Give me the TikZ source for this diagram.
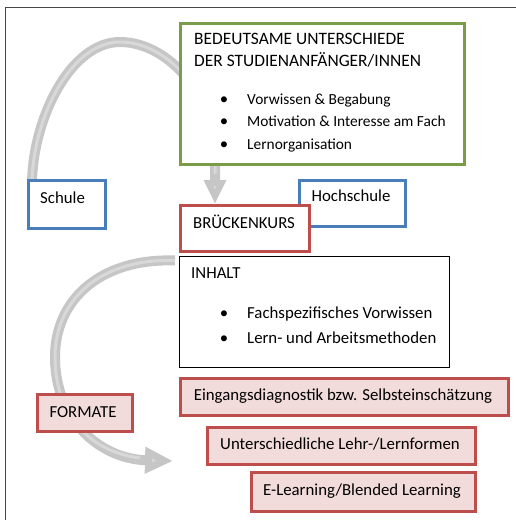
\documentclass[tikz,border=0pt]{standalone}
\usepackage{fontspec}
\setmainfont{Carlito}
\usetikzlibrary{arrows.meta,backgrounds}
\definecolor{boxgreen}{RGB}{122,155,72}
\definecolor{boxblue}{RGB}{74,126,187}
\definecolor{boxred}{RGB}{190,78,75}
\definecolor{boxpink}{RGB}{242,220,219}
\definecolor{arcgray}{RGB}{198,198,198}
\definecolor{arclight}{RGB}{216,216,216}
\definecolor{framegray}{RGB}{70,70,70}
\newcommand{\fs}{\fontsize{16.8}{19}\selectfont}
\newcommand{\fsh}{\fontsize{17.4}{19}\selectfont}
\newcommand{\fsi}{\fontsize{15.4}{19}\selectfont}
\begin{document}
\begin{tikzpicture}[x=1pt,y=-1pt,
  box/.style={draw, line width=2.5pt, fill=white, inner sep=0pt, anchor=north west},
  greenbox/.style={box, draw=boxgreen},
  bluebox/.style={box, draw=boxblue},
  redbox/.style={box, draw=boxred},
  pinkbox/.style={box, draw=boxred, fill=boxpink},
  plainbox/.style={box, draw=black, line width=0.8pt},
  txt/.style={anchor=base west, inner sep=0pt, font=\fs},
  htxt/.style={anchor=base west, inner sep=0pt, font=\fsh},
  itxt/.style={anchor=base west, inner sep=0pt, font=\fsi},
  ctxt/.style={anchor=base, inner sep=0pt, font=\fs},
  bul/.style={anchor=base, inner sep=0pt, font=\fs},
  arcband/.style={draw=arcgray, line width=10pt},
  arcshine/.style={draw=arclight, line width=3pt},
  headA/.style={-{Triangle[width=21pt,length=24pt,fill=arclight,color=arcgray]}},
  headB/.style={-{Triangle[width=25pt,length=28pt,fill=arclight,color=arcgray]}}
]
\useasboundingbox (0,0) rectangle (516,520);
\draw[framegray, line width=1.5pt] (5.5,530) -- (5.5,7.5) -- (530,7.5);

% boxes
\node[greenbox, minimum width=284pt, minimum height=141pt] (g) at (179,22) {};
\node[bluebox, minimum width=77pt, minimum height=48pt] (schule) at (27,179) {};
\node[bluebox, minimum width=106pt, minimum height=46pt] (hoch) at (298,179) {};
\node[redbox, minimum width=129pt, minimum height=46pt] (bk) at (179,204) {};
\node[plainbox, minimum width=270pt, minimum height=111pt] (inh) at (179,256) {};
\node[pinkbox, minimum width=328pt, minimum height=37pt] (f1) at (179,377) {};
\node[pinkbox, minimum width=268pt, minimum height=37pt] (f2) at (206,426) {};
\node[pinkbox, minimum width=224pt, minimum height=39pt] (f3) at (250,471) {};
\node[pinkbox, minimum width=95pt, minimum height=37pt] (fmt) at (36,393) {};

% texts
\node[htxt] (g1) at (194,44) {BEDEUTSAME UNTERSCHIEDE};
\node[htxt] (g2) at (194,66) {DER STUDIENANFÄNGER/INNEN};
\node[bul] (gb1) at (224,104) {\textbullet};
\node[itxt] (gi1) at (247,104) {Vorwissen \& Begabung};
\node[bul] (gb2) at (224,126) {\textbullet};
\node[itxt] (gi2) at (247,126) {Motivation \& Interesse am Fach};
\node[bul] (gb3) at (224,149) {\textbullet};
\node[itxt] (gi3) at (247,149) {Lernorganisation};

\node[txt] (ts) at (40,203) {Schule};
\node[ctxt] (th) at (351,201.5) {Hochschule};
\node[txt] (tbk) at (193,228) {BRÜCKENKURS};

\node[txt] (ti) at (191,278) {INHALT};
\node[bul] (ib1) at (224,318.5) {\textbullet};
\node[txt] (ii1) at (247,318.5) {Fachspezifisches Vorwissen};
\node[bul] (ib2) at (224,343) {\textbullet};
\node[txt] (ii2) at (247,343) {Lern- und Arbeitsmethoden};

\node[ctxt] (tf1) at (343,400) {Eingangsdiagnostik bzw. Selbsteinschätzung};
\node[ctxt] (tf2) at (340,449) {Unterschiedliche Lehr-/Lernformen};
\node[ctxt] (tf3) at (362,495) {E-Learning/Blended Learning};
\node[ctxt] (tfmt) at (83,417) {FORMATE};

\coordinate (fmtend) at (173,461);

% curved arrows behind the boxes
\begin{scope}[on background layer]
\draw[arcband, headA] ([xshift=5pt,yshift=-6pt]schule.north west)
  .. controls (32,120) and (70,42) .. (120,42)
  .. controls (165,42) and (215,90) .. (215,163) -- ([xshift=36pt]bk.north west);
\draw[arcshine] ([xshift=5pt,yshift=-6pt]schule.north west)
  .. controls (32,120) and (70,42) .. (120,42)
  .. controls (165,42) and (215,90) .. (215,163) -- (215,174);
\draw[arcband, headB] ([xshift=-4pt,yshift=-8pt]bk.south west)
  .. controls (100,258) and (55,300) .. (55,357)
  .. controls (55,420) and (100,459) .. (fmtend);
\draw[arcshine] ([xshift=-4pt,yshift=-8pt]bk.south west)
  .. controls (100,258) and (55,300) .. (55,357)
  .. controls (55,415) and (90,452) .. (140,458);
\end{scope}
\end{tikzpicture}
\end{document}
